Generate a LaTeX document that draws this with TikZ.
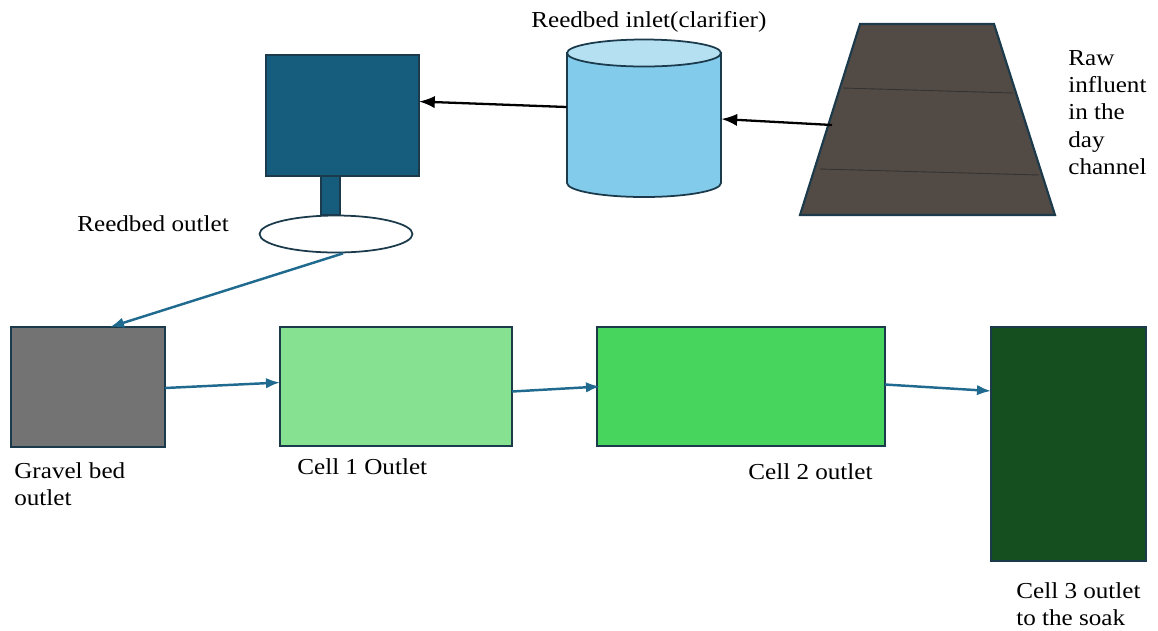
\documentclass[tikz,border=0pt]{standalone}
\usepackage{fontspec}
\setmainfont{Liberation Serif}[FakeStretch=1.1]
\usetikzlibrary{shapes.geometric,arrows.meta,calc}
\definecolor{tankblue}{HTML}{165C7D}
\definecolor{cylbody}{HTML}{83CBEA}
\definecolor{cyltop}{HTML}{B4E0F2}
\definecolor{channel}{HTML}{524A45}
\definecolor{edge}{HTML}{1B3A4B}
\definecolor{gravel}{HTML}{737373}
\definecolor{cellA}{HTML}{86E290}
\definecolor{cellB}{HTML}{47D55E}
\definecolor{cellC}{HTML}{154F1F}
\definecolor{flow}{HTML}{1F6A8E}
\tikzset{
  box/.style={draw=edge, line width=1pt, inner sep=0pt, outer sep=0pt, rectangle},
  lbl/.style={font=\fontsize{13}{15.5}\selectfont, inner sep=0pt, anchor=north west, align=left},
  blackarrow/.style={-{Latex[length=9pt,width=7pt]}, line width=1.3pt, black},
  bluearrow/.style={-{Latex[length=8pt,width=6pt]}, line width=1.4pt, flow},
}
\begin{document}
\begin{tikzpicture}[x=0.02cm,y=-0.02cm]
\useasboundingbox (0,0) rectangle (1158,630);
% tank
\node[box, fill=tankblue, minimum width=3.06cm, minimum height=2.42cm] (tank) at (342.5,115.5) {};
\node[box, fill=tankblue, minimum width=0.38cm, minimum height=0.78cm] (stem) at (330.5,195.5) {};
\node[ellipse, draw=edge, line width=1pt, fill=white, minimum width=3.06cm, minimum height=0.74cm, inner sep=0pt] (outlet) at (336,234) {};
% cylinder
\node[inner sep=0pt, minimum width=3.08cm, minimum height=2.6cm] (cyl) at (644,118) {};
\draw[draw=edge, line width=1pt, fill=cylbody] (567,53) -- (567,183) arc[start angle=180, end angle=0, x radius=77, y radius=14] -- (721,53) -- cycle;
\draw[draw=edge, line width=1pt, fill=cyltop] (644,53) ellipse[x radius=77, y radius=13.5];
% trapezium channel
\draw[draw=edge, line width=1.2pt, fill=channel] (860,24) -- (994,24) -- (1055,215) -- (800,215) -- cycle;
\coordinate (trapin) at (832,125);
\draw[black!80, line width=0.5pt] (843,88) -- (1013,93);
\draw[black!80, line width=0.5pt] (820,169) -- (1039,175);
% cells
\node[box, fill=gravel, minimum width=3.08cm, minimum height=2.4cm] (grav) at (88,387) {};
\node[box, fill=cellA, minimum width=4.64cm, minimum height=2.38cm] (cell1) at (396,386.5) {};
\node[box, fill=cellB, minimum width=5.76cm, minimum height=2.38cm] (cell2) at (741,386.5) {};
\node[box, fill=cellC, minimum width=3.1cm, minimum height=4.68cm] (cell3) at (1068.5,444) {};
% connectors
\draw[blackarrow] ($(cyl.west)+(0,-11)$) -- ($(tank.east)+(0,-14)$);
\draw[blackarrow] (trapin) -- ($(cyl.east)+(0,1)$);
\draw[bluearrow] ($(outlet.south)+(7,0)$) -- ($(grav.north)+(22,0)$);
\draw[bluearrow] ($(grav.east)+(0,1)$) -- ($(cell1.west)+(0,-4)$);
\draw[bluearrow] ($(cell1.east)+(0,5)$) -- ($(cell2.west)+(3,0)$);
\draw[bluearrow] ($(cell2.east)+(0,-2)$) -- ($(cell3.west)+(0,-53)$);
% labels
\node[lbl] (tinlet) at (531,11) {Reedbed inlet(clarifier)};
\node[lbl] (toutlet) at (77,215) {Reedbed outlet};
\node[lbl] (traw) at (1068,50) {Raw\\influent\\in the\\day\\channel};
\node[lbl] (tgrav) at (14,462) {Gravel bed\\outlet};
\node[lbl] (tc1) at (297,458) {Cell 1 Outlet};
\node[lbl] (tc2) at (748,463) {Cell 2 outlet};
\node[lbl] (tc3) at (1016,582) {Cell 3 outlet\\to the soak};
\end{tikzpicture}
\end{document}
